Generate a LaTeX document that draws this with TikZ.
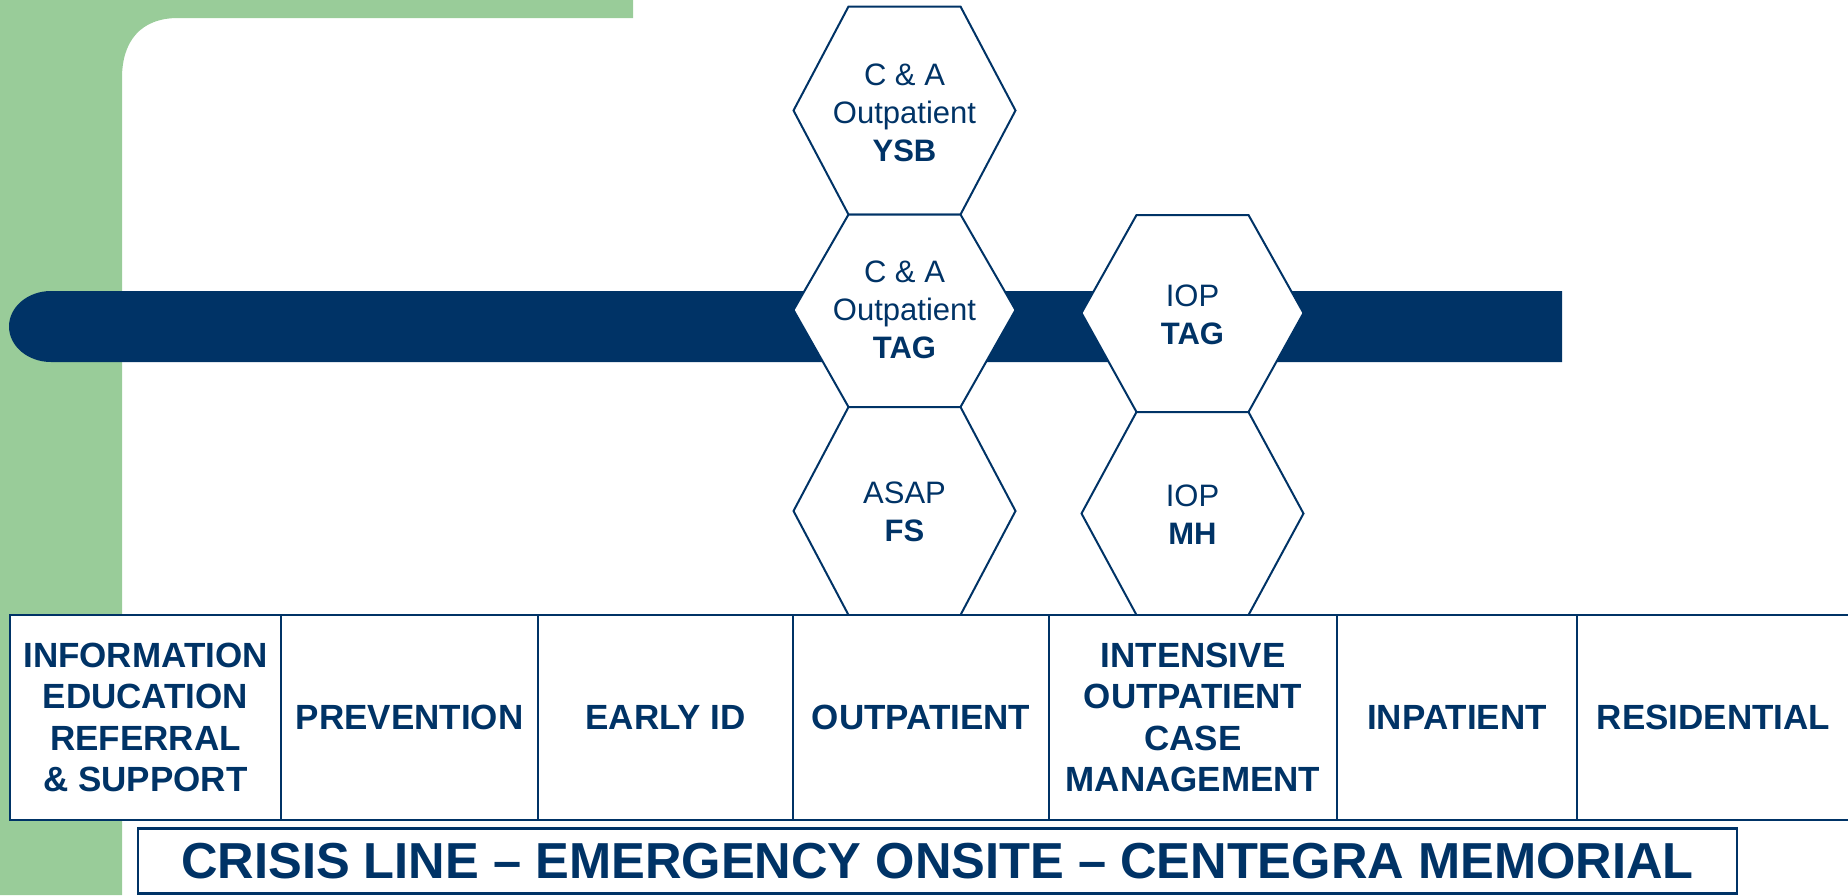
\documentclass[tikz,border=0pt]{standalone}
\usepackage{fontspec}
\setmainfont{Liberation Sans}
\definecolor{navy}{RGB}{0,51,102}
\definecolor{sage}{RGB}{153,204,153}
\newcommand{\hexshape}[4]{%
  \filldraw[hexline] (#1-111,#3) -- (#1-56,#2) -- (#1+56,#2) -- (#1+111,#3) -- (#1+56,#4) -- (#1-56,#4) -- cycle;}
\begin{document}
\begin{tikzpicture}[x=1pt,y=-1pt,
  hexline/.style={draw=navy, line width=2pt, fill=white, line join=miter},
  hextext/.style={text=navy, font=\fontsize{31}{38}\selectfont, align=center, inner sep=0pt},
  cell/.style={draw=navy, fill=white, line width=2.5pt, minimum height=205pt, text=navy,
    font=\fontsize{35}{41.5}\selectfont\bfseries, align=center, inner sep=0pt, outer sep=0pt, anchor=north west},
  crisis/.style={draw=navy, fill=white, line width=2.5pt, minimum width=1599pt, minimum height=65pt, text=navy,
    font=\fontsize{50.6}{56}\selectfont\bfseries, inner sep=0pt}
  ]
\useasboundingbox (0,0) rectangle (1848,895);
% green frame
\fill[sage] (0,0) -- (633,0) -- (633,18) -- (178,18) .. controls (140,18) and (122,42) .. (122,78) -- (122,895) -- (0,895) -- cycle;
% blue bar
\fill[navy] (1562,291) -- (51,291) arc[start angle=270, end angle=90, x radius=42, y radius=35.5] -- (1562,362) -- cycle;
% hexagons
\hexshape{904.5}{6.5}{110.5}{214.5}
\hexshape{904.5}{214.5}{310}{407}
\hexshape{904.5}{407}{511}{615}
\hexshape{1192.5}{215}{313}{412}
\hexshape{1192.5}{412}{513.5}{615}
\node[hextext] (ysb) at (904.5,113) {C \& A\\Outpatient\\\textbf{YSB}};
\node[hextext] (cat) at (904.5,310) {C \& A\\Outpatient\\\textbf{TAG}};
\node[hextext] (asap) at (904.5,512) {ASAP\\\textbf{FS}};
\node[hextext] (ioptag) at (1192.5,315) {IOP\\\textbf{TAG}};
\node[hextext] (iopmh) at (1192.5,515) {IOP\\\textbf{MH}};
% table
\node[cell, minimum width=271pt] (c1) at (10,615) {INFORMATION\\EDUCATION\\REFERRAL\\\& SUPPORT};
\node[cell, minimum width=257pt] (c2) at (281,615) {PREVENTION};
\node[cell, minimum width=255pt] (c3) at (538,615) {EARLY ID};
\node[cell, minimum width=256pt] (c4) at (793,615) {OUTPATIENT};
\node[cell, minimum width=288pt] (c5) at (1049,615) {INTENSIVE\\OUTPATIENT\\CASE\\MANAGEMENT};
\node[cell, minimum width=240pt] (c6) at (1337,615) {INPATIENT};
\node[cell, minimum width=273pt] (c7) at (1577,615) {RESIDENTIAL};
% crisis line
\node[crisis] (crisis) at (937.5,861) {CRISIS LINE – EMERGENCY ONSITE – CENTEGRA MEMORIAL};
\end{tikzpicture}
\end{document}
